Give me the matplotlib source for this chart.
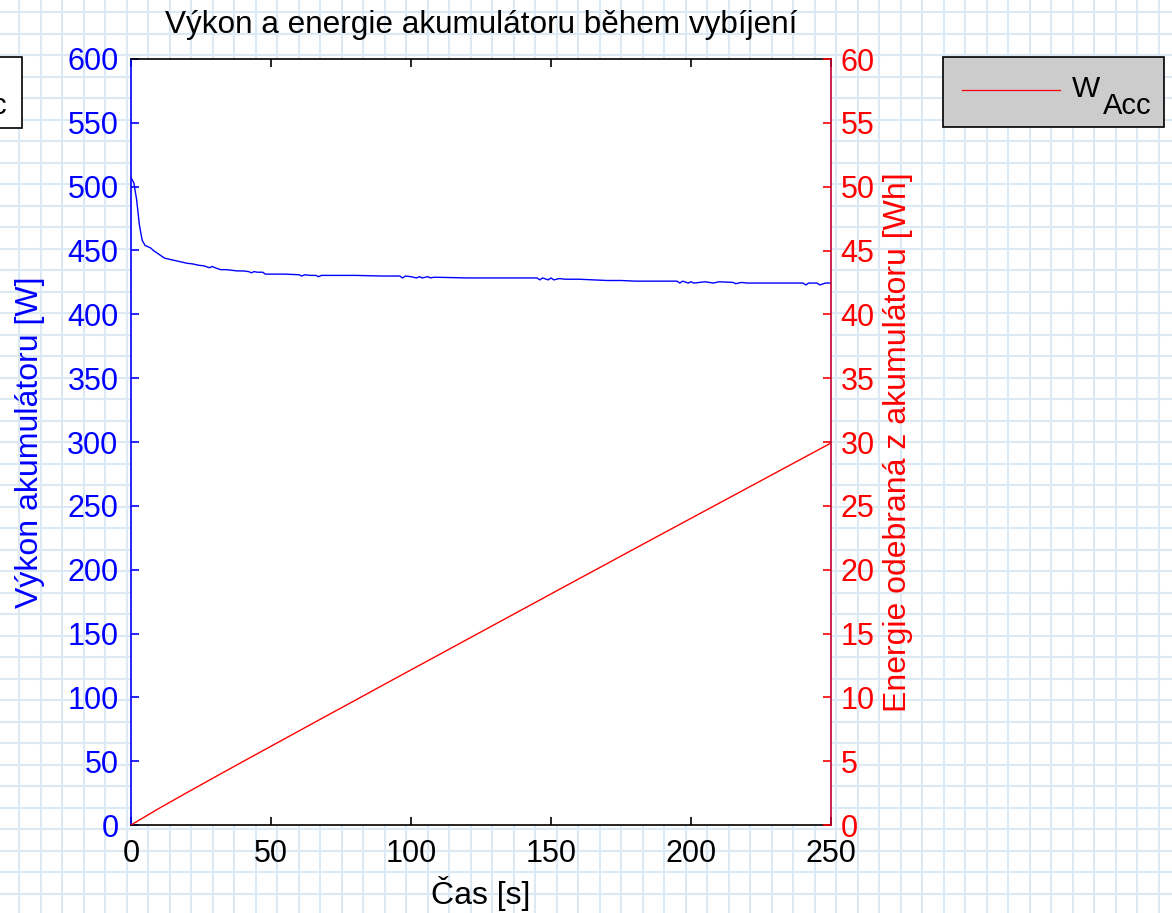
import numpy as np
import matplotlib
matplotlib.use("Agg")
import matplotlib.pyplot as plt
from matplotlib.patches import Rectangle
from matplotlib.lines import Line2D

plt.rcParams['font.family'] = ['Liberation Sans', 'DejaVu Sans']

# --- data -------------------------------------------------------------
time_power = [0, 1, 2, 3, 4, 5, 6, 7, 8, 10, 12, 14, 16, 18, 20, 22, 24, 26,
              28, 29, 30, 32, 34, 36, 38, 40, 42, 43, 44, 45, 47, 48, 50, 55,
              60, 61, 62, 64, 66, 67, 68, 70, 75, 80, 90, 96, 97, 98, 100, 102,
              103, 104, 106, 107, 108, 110, 120, 130, 140, 145, 146, 147, 149,
              150, 151, 153, 155, 160, 170, 175, 180, 190, 195, 196, 197, 199,
              200, 201, 205, 208, 210, 215, 216, 218, 220, 230, 240, 241, 242,
              245, 246, 248, 250]
power_w = [507, 503, 490, 470, 458, 454, 453, 452, 450, 447, 444, 443, 442,
           441, 440, 439.5, 438.5, 438, 436.5, 437.5, 436.5, 435, 435, 434.5,
           434, 434, 433.5, 432.5, 433.5, 433, 433, 431.5, 431.5, 431.5,
           431, 430, 431, 430.5, 430.5, 429.5, 430.5, 430.5, 430.5, 430.5,
           430, 430, 428.5, 430, 429.5, 428.5, 429.5, 428.5, 429.5, 428.5,
           429, 429, 428.5, 428.5, 428.5, 428.5, 427, 428.5, 427, 428.5, 427,
           428, 427.5, 427.5, 426.5, 426.5, 426, 426, 426, 424.5, 426, 424.5,
           425.5, 424.5, 425.5, 424.5, 425.5, 425, 424, 425, 424.5, 424.5,
           424.5, 423, 424.5, 424.5, 423, 424.5, 424.5]

time_energy = [0, 10, 20, 30, 40, 50, 60, 70, 80, 90, 100, 110, 120, 130,
               140, 150, 160, 170, 180, 190, 200, 210, 220, 230, 240, 250]
energy_wh = [0, 1.30, 2.54, 3.76, 4.97, 6.17, 7.37, 8.57, 9.76, 10.96, 12.15,
             13.34, 14.53, 15.72, 16.91, 18.10, 19.29, 20.47, 21.66, 22.84,
             24.02, 25.20, 26.38, 27.56, 28.74, 29.92]

x_ticks = [0, 50, 100, 150, 200, 250]
power_ticks = list(range(0, 601, 50))
energy_ticks = list(range(0, 61, 5))

BLUE = '#0000ff'
RED = '#ff0000'
FS_TICK = 22
FS_LABEL = 23
FS_TITLE = 22.7
FS_LEG = 21.5

# --- figure and graph-paper background -----------------------------------
W, H = 1172, 913
fig = plt.figure(figsize=(W / 100, H / 100), dpi=100, facecolor='white')

bg = fig.add_axes([0, 0, 1, 1], zorder=-10)
bg.set_xlim(0, W)
bg.set_ylim(H, 0)
bg.axis('off')
grid_col = '#dde8f5'
for gx in np.arange(19, W, 21.5):
    bg.axvline(gx, color=grid_col, lw=1.5, zorder=0)
for gy in np.arange(12.4, H, 21.5):
    bg.axhline(gy, color=grid_col, lw=1.5, zorder=0)

# legend boxes (pixel coordinates on the background)
bg.add_patch(Rectangle((942.7, 56.7), 1164 - 942.7, 126.7 - 56.7,
                       facecolor='#cccccc', edgecolor='black', lw=1.2, zorder=2))
bg.add_line(Line2D([962, 1060], [90.5, 90.5], color=RED, lw=0.9, zorder=3))
bg.text(1072, 97, 'W', fontsize=FS_LEG, ha='left', va='baseline', zorder=3)
bg.text(1103, 113.5, 'Acc', fontsize=FS_LEG - 0.5, ha='left', va='baseline', zorder=3)

bg.add_patch(Rectangle((-250, 57.3), 250 + 21.5, 128.3 - 57.3,
                       facecolor='white', edgecolor='black', lw=1.2, zorder=2))
bg.add_line(Line2D([-170, -72], [90.5, 90.5], color=BLUE, lw=0.9, zorder=3))
bg.text(7.5, 113.5, 'Acc', fontsize=FS_LEG - 0.5, ha='right', va='baseline', zorder=3)
bg.text(-43, 97, 'P', fontsize=FS_LEG, ha='right', va='baseline', zorder=3)

# --- main axes ------------------------------------------------------------
left, right, top, bottom = 131, 831, 59, 825
ax = fig.add_axes([left / W, 1 - bottom / H, (right - left) / W, (bottom - top) / H])
ax.set_facecolor('white')
ax.plot(time_power, power_w, color=BLUE, lw=1.0)
ax.set_xlim(0, 250)
ax.set_ylim(0, 600)
ax.set_xticks(x_ticks)
ax.set_yticks(power_ticks)

ax.tick_params(axis='x', direction='in', top=True, bottom=True, length=6,
               width=1.2, colors='black', labelsize=FS_TICK, pad=10)
ax.tick_params(axis='y', direction='in', left=True, right=False, length=6,
               width=1.2, colors=BLUE, labelsize=FS_TICK, pad=9)
ax.spines['left'].set_color(BLUE)
ax.spines['right'].set_visible(False)
for s in ('top', 'bottom'):
    ax.spines[s].set_color('black')
for s in ax.spines.values():
    s.set_linewidth(1.2)

ax.set_xlabel('Čas [s]', fontsize=FS_LABEL)
ax.xaxis.set_label_coords(0.5, (bottom - 893) / (bottom - top))
ax.xaxis.label.set_va('center')
ax.set_ylabel('Výkon akumulátoru [W]', fontsize=FS_LABEL, color=BLUE)
ax.yaxis.set_label_coords((30 - left) / (right - left), 0.5)
ax.yaxis.label.set_va('center')
ax.set_title('Výkon a energie akumulátoru během vybíjení', fontsize=FS_TITLE, pad=19)

ax2 = ax.twinx()
ax2.plot(time_energy, energy_wh, color=RED, lw=1.0)
ax2.set_ylim(0, 60)
ax2.set_yticks(energy_ticks)
ax2.tick_params(axis='y', direction='in', right=True, left=False, length=6,
                width=1.2, colors=RED, labelsize=FS_TICK, pad=7)
ax2.spines['right'].set_color('#c00030')
ax2.spines['right'].set_linewidth(1.2)
for s in ('left', 'top', 'bottom'):
    ax2.spines[s].set_visible(False)
ax2.set_ylabel('Energie odebraná z akumulátoru [Wh]', fontsize=FS_LABEL, color=RED)
ax2.yaxis.set_label_coords((898 - left) / (right - left), 0.5)
ax2.yaxis.label.set_va('center')

fig.savefig('out.png', dpi=100, facecolor='white')
